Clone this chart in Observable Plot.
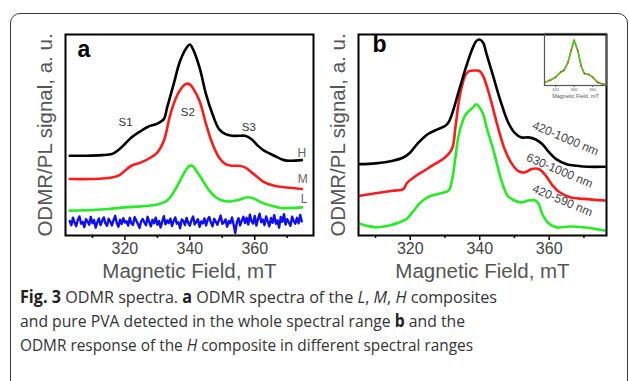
<!DOCTYPE html>
<html>
<head>
<meta charset="utf-8">
<script src="https://cdn.jsdelivr.net/npm/d3@7"></script>
<script src="https://cdn.jsdelivr.net/npm/@observablehq/plot@0.6"></script>
<style>
  html, body { margin: 0; padding: 0; background: #fff; width: 629px; height: 381px; overflow: hidden; }
  #box { position: absolute; left: 10px; top: 13px; width: 618px; height: 400px; box-sizing: border-box;
         border: 1.3px solid #3a3a3a; border-radius: 10px; }
  .panel { position: absolute; }
  .panel svg { background: transparent !important; overflow: visible; }
  #cap { position: absolute; left: 20px; top: 285px; font-family: "Open Sans", sans-serif; font-size: 17px;
         line-height: 24px; color: #333; white-space: nowrap; }
  #cap .ln { display: block; width: max-content; transform-origin: 0 50%; }
  #cap b { font-weight: 700; color: #222; }
</style>
</head>
<body>
<div id="box"></div>
<div id="pa" class="panel" style="left:0px;top:0px"></div>
<div id="pb" class="panel" style="left:300px;top:0px"></div>
<div id="pi" class="panel" style="left:538px;top:28px"></div>
<div id="cap">
  <span class="ln" data-w="477"><b>Fig. 3</b> ODMR spectra. <b>a</b> ODMR spectra of the <i>L</i>, <i>M</i>, <i>H</i> composites</span>
  <span class="ln" data-w="445">and pure PVA detected in the whole spectral range <b>b</b> and the</span>
  <span class="ln" data-w="453">ODMR response of the <i>H</i> composite in different spectral ranges</span>
</div>
<script>
// ---------- Panel a data (magnetic field in mT, signal in a.u.) ----------
const aFieldH = [303,308,313,316,318,320,322,325,327,330,332,333,335,337,339,340,341,343,345,347,349,351,353,355,357,359,361,363,366,369,371,374.5];
const aH      = [39.7,39.7,40.0,40.5,42.5,45.5,48.8,52.1,54.0,55.7,57.9,63.6,75.2,86.8,93.4,95.0,92.6,83.5,70.2,60.3,52.9,50.4,49.6,49.6,49.6,47.9,44.6,42.1,39.7,37.5,37.2,37.5];
const aFieldM = [303,310,315,318,320,322,325,328,330,332,334,336,338,339,340,341,343,345,347,349,351,353,355,357,359,361,363,366,369,372,374.5];
const aM      = [28.1,28.1,28.6,29.8,32.2,34.7,36.4,38.8,41.3,47.1,60.3,69.4,74.4,75.5,75.2,73.2,66.9,55.4,45.5,38.8,35.5,34.7,34.7,33.9,31.4,28.9,26.4,24.8,24.0,23.6,23.1];
const aFieldL = [303,310,315,320,325,330,333,335,337,339,340,341,342,344,346,348,350,352,355,358,360,362,365,368,371,374.5];
const aL      = [12.4,12.7,13.2,14.0,14.5,15.4,17.4,21.5,27.3,33.1,34.7,34.4,32.2,27.3,22.3,19.0,17.4,16.9,17.7,19.0,18.2,16.5,14.9,13.7,13.7,14.0];
// pure PVA, sampled every 0.5 mT from 303 to 374.5
const aFieldPVA = [
  303.0,303.5,304.0,304.5,305.0,305.5,306.0,306.5,307.0,307.5,308.0,308.5,
  309.0,309.5,310.0,310.5,311.0,311.5,312.0,312.5,313.0,313.5,314.0,314.5,
  315.0,315.5,316.0,316.5,317.0,317.5,318.0,318.5,319.0,319.5,320.0,320.5,
  321.0,321.5,322.0,322.5,323.0,323.5,324.0,324.5,325.0,325.5,326.0,326.5,
  327.0,327.5,328.0,328.5,329.0,329.5,330.0,330.5,331.0,331.5,332.0,332.5,
  333.0,333.5,334.0,334.5,335.0,335.5,336.0,336.5,337.0,337.5,338.0,338.5,
  339.0,339.5,340.0,340.5,341.0,341.5,342.0,342.5,343.0,343.5,344.0,344.5,
  345.0,345.5,346.0,346.5,347.0,347.5,348.0,348.5,349.0,349.5,350.0,350.5,
  351.0,351.5,352.0,352.5,353.0,353.5,354.0,354.5,355.0,355.5,356.0,356.5,
  357.0,357.5,358.0,358.5,359.0,359.5,360.0,360.5,361.0,361.5,362.0,362.5,
  363.0,363.5,364.0,364.5,365.0,365.5,366.0,366.5,367.0,367.5,368.0,368.5,
  369.0,369.5,370.0,370.5,371.0,371.5,372.0,372.5,373.0,373.5,374.0,374.5];
const aPVA = [
  7.2,5.1,8.9,6.3,4.6,7.8,9.5,5.9,6.8,4.2,8.1,7.0,
  5.4,9.2,6.1,7.7,3.9,6.6,8.4,5.2,7.3,9.0,6.0,4.8,
  8.3,6.9,5.0,7.6,9.8,6.2,4.4,7.9,5.7,8.6,6.4,7.1,
  4.9,8.8,6.0,5.3,9.1,7.4,5.8,3.8,7.0,8.2,6.5,5.1,
  9.3,6.7,4.5,7.8,6.1,8.9,5.4,7.2,4.0,6.9,9.6,5.6,
  7.5,6.2,8.4,4.7,7.1,9.0,5.9,6.6,3.6,8.0,7.3,5.2,
  8.7,6.4,4.9,7.6,9.4,5.5,6.8,8.1,4.3,7.0,6.0,8.5,
  5.0,7.9,9.2,6.3,4.6,8.3,6.9,5.4,7.7,9.9,5.8,6.5,
  8.0,4.4,7.2,6.1,9.0,5.3,1.2,6.7,8.6,5.0,7.4,9.3,
  6.2,8.8,5.5,10.4,7.1,6.0,9.7,4.9,8.2,10.8,6.6,7.9,
  5.2,9.5,7.0,4.6,8.7,6.3,10.1,5.8,7.6,3.9,9.2,6.8,
  10.6,5.4,8.1,6.5,4.8,9.4,7.2,5.9,8.8,6.1,10.2,7.0];

// ---------- Panel b data ----------
const bField1 = [305.5,310,315,318,320,322,325,328,330,331,332,334,336,338,339,340,341,342,344,346,348,350,352,354,356,358,360,362,365,368,371,376];
const b1      = [35.5,35.9,37.2,38.8,41.3,45.5,50.4,52.9,54.5,56.2,60.3,71.9,83.5,93.4,96.7,97.5,95.9,90.1,78.5,66.9,57.0,51.2,48.8,48.8,47.9,45.5,41.3,38.0,35.5,34.7,34.2,34.2];
const bField2 = [305.5,310,315,318,319,321,324,327,330,332,333,334,335,336,337,339,340,341,343,345,347,349,351,353,355,357,359,361,363,366,370,376];
const b2      = [19.8,21.0,22.3,23.1,26.0,28.9,32.2,35.5,38.8,43.0,53.7,66.9,75.2,80.2,81.8,82.1,81.8,79.3,68.6,55.4,43.8,36.4,32.2,31.4,33.1,33.1,29.8,24.8,21.5,19.0,18.2,17.4];
const bField3 = [305.5,310,314,317,319,321,323,325,328,331,332,333,334,336,338,339,340,341,342,344,346,348,350,352,354,356,357,358,360,362,366,370,373,376];
const b3      = [5.8,4.1,5.0,6.6,8.3,12.4,16.5,19.0,20.7,22.3,27.3,38.8,50.4,60.3,63.6,65.3,63.6,60.3,53.7,42.1,28.9,19.8,17.4,16.5,17.4,17.4,15.7,10.7,5.8,4.1,4.5,4.1,3.3,2.5];

// ---------- Inset (normalised spectra) ----------
const insetField = [308.5,314,320,325.5,329,333.5,336.7,340,344,347.5,351,356,360,365.5,370.6,374];
const insetValue = [6,10,16,26,29,45,67,87,67,38,23,21,16,6,3,2];

// ---------- Labels ----------
const majorTicks = [320, 340, 360];
const minorTicks = [310, 330, 350, 370];
const xTitle = "Magnetic Field, mT";
const yTitle = "ODMR/PL signal, a. u.";
const peakLabels = [{f: 320.2, v: 56.2, t: "S1"}, {f: 339.4, v: 61.2, t: "S2"}, {f: 358.2, v: 53.7, t: "S3"}];
const seriesLabelsA = [{f: 374.5, v: 40.8, t: "H"}, {f: 374.8, v: 27.9, t: "M"}, {f: 375.2, v: 17.9, t: "L"}];
const rangeLabelsB = [{f: 364.7, v: 48.3, t: "420-1000 nm"}, {f: 363.0, v: 32.3, t: "630-1000 nm"}, {f: 363.8, v: 17.4, t: "420-590 nm"}];

const colors = {black: "#000000", red: "#ff1a1a", green: "#22ee22", blue: "#1010ee"};
const zip = (xs, ys) => xs.map((x, i) => ({field: x, value: ys[i]}));
const FONT = "Liberation Sans, Arial, sans-serif";

function axes() {
  return [
    Plot.axisX({ticks: majorTicks, tickSize: 5, tickPadding: 2, fontSize: 16, stroke: "#000", fill: "#444", label: null, strokeWidth: 1.5}),
    Plot.axisX({ticks: minorTicks, tickSize: 3, tickFormat: () => "", label: null, stroke: "#000", strokeWidth: 1.5}),
    Plot.text([yTitle], {text: d => d, frameAnchor: "left", textAnchor: "middle", dx: -20, rotate: -90, fontSize: 20.5, fill: "#555"}),
    Plot.text([xTitle], {text: d => d, frameAnchor: "bottom", textAnchor: "middle", lineAnchor: "middle", dy: 36, fontSize: 20.5, fill: "#555"}),
    Plot.frame({stroke: "#000", strokeWidth: 2})
  ];
}

const pa = Plot.plot({
  width: 320, height: 290, marginLeft: 65, marginRight: 7, marginTop: 34, marginBottom: 55,
  style: {fontFamily: FONT, background: "transparent", overflow: "visible"},
  x: {domain: [301.7, 378.1]}, y: {domain: [0, 100], axis: null},
  marks: [
    Plot.line(zip(aFieldPVA, aPVA), {x: "field", y: "value", stroke: colors.blue, strokeWidth: 2.4}),
    Plot.line(zip(aFieldL, aL), {x: "field", y: "value", stroke: colors.green, strokeWidth: 2.6, curve: "catmull-rom"}),
    Plot.line(zip(aFieldM, aM), {x: "field", y: "value", stroke: colors.red, strokeWidth: 2.6, curve: "catmull-rom"}),
    Plot.line(zip(aFieldH, aH), {x: "field", y: "value", stroke: colors.black, strokeWidth: 2.6, curve: "catmull-rom"}),
    Plot.text(peakLabels, {x: "f", y: "v", text: "t", fontSize: 11.5, fill: "#333"}),
    Plot.text(seriesLabelsA, {x: "f", y: "v", text: "t", fontSize: 12, fill: "#666"}),
    Plot.text(["a"], {text: d => d, frameAnchor: "top-left", textAnchor: "start", lineAnchor: "top", dx: 12, dy: 6, fontSize: 23, fontWeight: "bold", fill: "#000"}),
    ...axes()
  ]
});
document.getElementById("pa").appendChild(pa);

const pb = Plot.plot({
  width: 320, height: 290, marginLeft: 58, marginRight: 14, marginTop: 34, marginBottom: 55,
  style: {fontFamily: FONT, background: "transparent", overflow: "visible"},
  x: {domain: [305.1, 376.5]}, y: {domain: [0, 100], axis: null},
  marks: [
    Plot.line(zip(bField3, b3), {x: "field", y: "value", stroke: colors.green, strokeWidth: 2.6, curve: "catmull-rom"}),
    Plot.line(zip(bField2, b2), {x: "field", y: "value", stroke: colors.red, strokeWidth: 2.6, curve: "catmull-rom"}),
    Plot.line(zip(bField1, b1), {x: "field", y: "value", stroke: colors.black, strokeWidth: 2.6, curve: "catmull-rom"}),
    Plot.text(rangeLabelsB, {x: "f", y: "v", text: "t", rotate: 23, fontSize: 12, fill: "#444"}),
    Plot.text(["b"], {text: d => d, frameAnchor: "top-left", textAnchor: "start", lineAnchor: "top", dx: 14, dy: 1, fontSize: 23, fontWeight: "bold", fill: "#000"}),
    ...axes()
  ]
});
document.getElementById("pb").appendChild(pb);

const insetData = insetField.map((f, i) => ({field: f, value: insetValue[i]}));
const pi = Plot.plot({
  width: 75, height: 75, marginLeft: 6, marginRight: 7, marginTop: 5, marginBottom: 18,
  style: {fontFamily: FONT, background: "transparent", overflow: "visible"},
  x: {domain: [308, 375]}, y: {domain: [0, 100], axis: null},
  marks: [
    Plot.frame({stroke: "#555", strokeWidth: 1.2}),
    Plot.line(insetData, {x: "field", y: "value", stroke: colors.red, strokeWidth: 1.6}),
    Plot.line(insetData, {x: "field", y: "value", stroke: colors.green, strokeWidth: 1.4}),
    Plot.dot(insetData, {x: "field", y: "value", fill: colors.red, r: 0.8}),
    Plot.axisX({ticks: majorTicks, tickSize: 2, tickPadding: 0.5, fontSize: 4, fill: "#555", stroke: "#555", label: null}),
    Plot.text([xTitle], {text: d => d, frameAnchor: "bottom", textAnchor: "middle", lineAnchor: "middle", dy: 11, fontSize: 5.5, fill: "#555"})
  ]
});
document.getElementById("pi").appendChild(pi);

// fit each caption line to the width it has in the reference
function fitCaption() {
  document.querySelectorAll("#cap .ln").forEach(el => {
    el.style.transform = "none";
    const w = el.getBoundingClientRect().width;
    const target = +el.dataset.w;
    if (w > 0) el.style.transform = `scaleX(${target / w})`;
  });
}
fitCaption();
if (document.fonts && document.fonts.ready) document.fonts.ready.then(fitCaption);
</script>
</body>
</html>
